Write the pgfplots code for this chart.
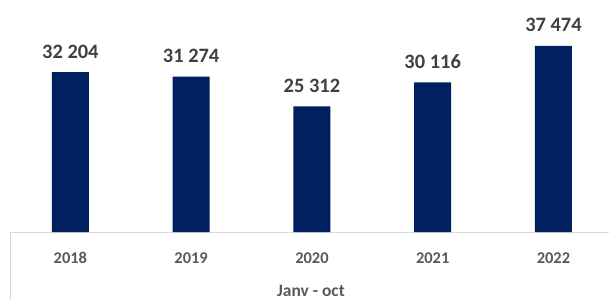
\documentclass[border=0pt]{standalone}
\usepackage{fontspec}
\setmainfont{Carlito}
\usepackage{pgfplots}
\pgfplotsset{compat=1.18}
\definecolor{navy}{HTML}{002060}
\definecolor{lbl}{HTML}{404040}
\definecolor{tlbl}{HTML}{595959}
\definecolor{framec}{HTML}{D9D9D9}
\begin{document}
\begin{tikzpicture}
\begin{axis}[
  scale only axis, width=599bp, height=232bp,
  xmin=-0.5, xmax=4.46, ymin=0, ymax=46700,
  axis x line=bottom, axis y line=none,
  x axis line style={draw=framec, line width=1bp, -},
  clip=false,
  ybar, bar width=37bp, bar shift=0pt,
  xtick={0,1,2,3,4},
  xticklabels={2018,2019,2020,2021,2022},
  major tick length=0pt,
  xticklabel style={anchor=base, yshift=-31bp, font=\bfseries\fontsize{16.5}{19}\selectfont, text=tlbl, inner sep=0pt},
  nodes near coords, point meta=explicit symbolic,
  nodes near coords style={font=\bfseries\fontsize{20.5}{24}\selectfont, text=lbl, anchor=base, inner sep=0pt, yshift=14bp},
]
\addplot[fill=navy, draw=none] coordinates {
  (0,32204) [32\ 204]
  (1,31274) [31\ 274]
  (2,25312) [25\ 312]
  (3,30116) [30\ 116]
  (4,37474) [37\ 474]
};
\coordinate (bl) at (rel axis cs:0,0);
\coordinate (tr) at (rel axis cs:1,1);
\draw[framec, line width=1bp] (rel axis cs:0,0) -- ([yshift=-70bp]rel axis cs:0,0);
\node[anchor=base, inner sep=0pt, font=\bfseries\fontsize{17.5}{20}\selectfont, text=tlbl] at ([yshift=-64bp]rel axis cs:0.5025,0) {Janv - oct};
\end{axis}
\pgfresetboundingbox
\path[use as bounding box] ([shift={(-10bp,-68bp)}]bl) rectangle (tr);
\end{tikzpicture}
\end{document}
